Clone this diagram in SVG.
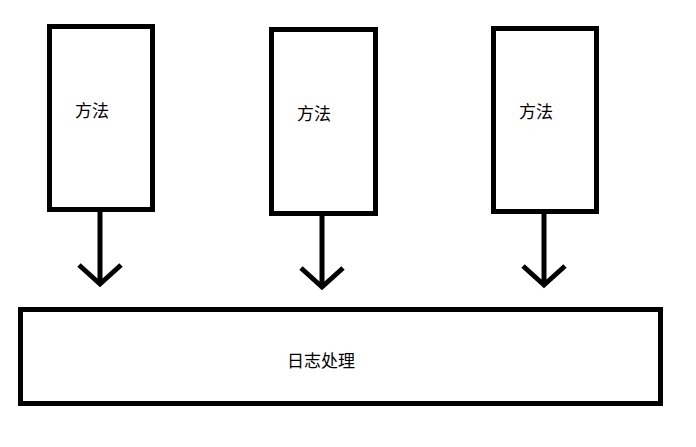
<svg xmlns="http://www.w3.org/2000/svg" width="696" height="447" viewBox="0 0 696 447">
<style>
.box{fill:#fff;stroke:#000;stroke-width:5}
.lbl{font-family:"Noto Sans CJK SC","Noto Sans",sans-serif;font-size:17px;fill:#000}
.c{fill:none;stroke:#000;stroke-width:5}
</style>
<rect width="696" height="447" fill="#fff"/>
<g id="m1"><rect class="box" x="49.5" y="26.5" width="103" height="183"/><text class="lbl" x="75" y="117">方法</text></g>
<g id="m2"><rect class="box" x="271.5" y="29.5" width="104" height="184"/><text class="lbl" x="297" y="120">方法</text></g>
<g id="m3"><rect class="box" x="493.5" y="28.5" width="103" height="183"/><text class="lbl" x="519" y="118">方法</text></g>
<g id="log"><rect class="box" x="20.5" y="309.5" width="640" height="94"/><text class="lbl" x="287" y="367">日志处理</text></g>
<g id="connectors">
<path class="c" d="M100 212V284M79 265L100 284L121 265"/>
<path class="c" d="M322 216V287M301 268L322 287L343 268"/>
<path class="c" d="M544 214V285M523 266L544 285L565 266"/>
</g>
</svg>
